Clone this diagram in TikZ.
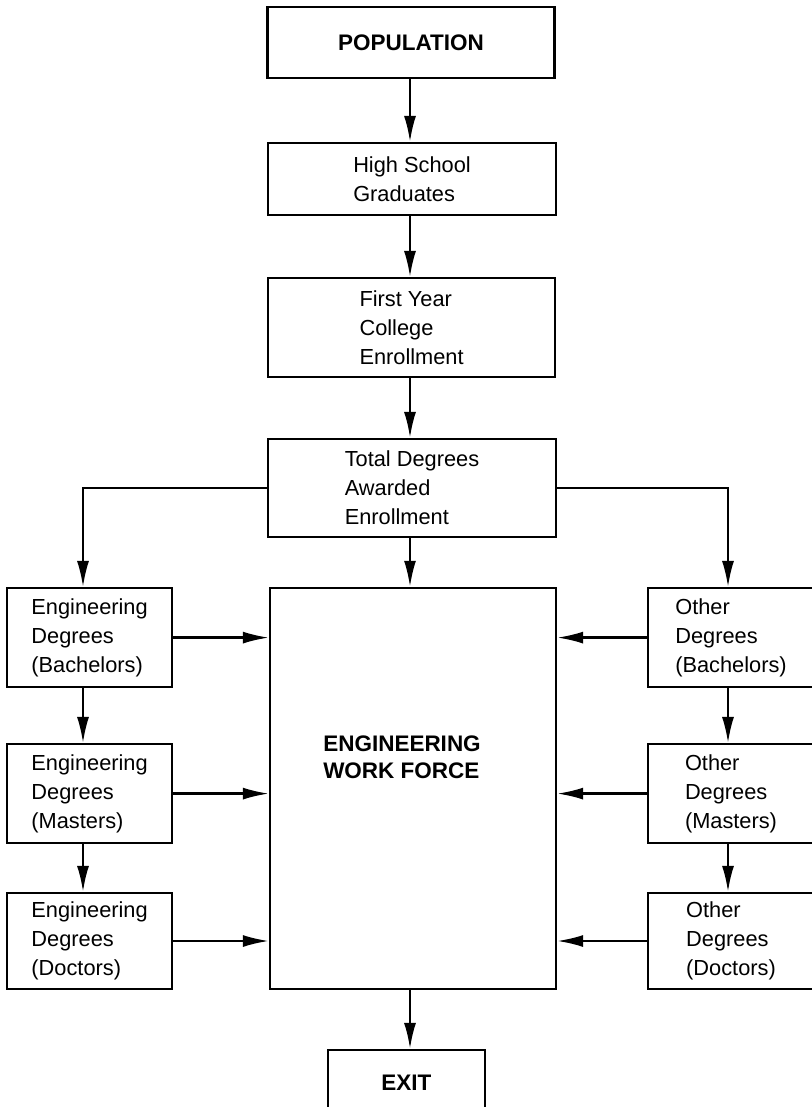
\documentclass[tikz,border=0pt]{standalone}
\usepackage{fontspec}
\setmainfont{Liberation Sans}
\usetikzlibrary{arrows.meta}

\tikzset{
    box/.style={draw, line width=1.6pt, align=left, inner sep=0pt,
        font=\fontsize{15.5}{20.5}\selectfont},
    bigbox/.style={box, font=\fontsize{16}{19.5}\selectfont\bfseries},
    flow/.style={line width=1.6pt, -{Latex[length=6.5mm,width=3mm]}}
}

\begin{document}
\begin{tikzpicture}
        \useasboundingbox (0,0) rectangle (20.3,-27.675);
        % main column
        \node[bigbox, minimum width=7.175cm, minimum height=1.775cm] (pop) at (10.275,-1.0625) {POPULATION};
        \node[box, minimum width=7.2cm, minimum height=1.8cm] (hs) at (10.3,-4.475) {High School\\Graduates};
        \node[box, minimum width=7.175cm, minimum height=2.475cm] (fy) at (10.29,-8.19) {First Year\\College\\Enrollment};
        \node[box, minimum width=7.2cm, minimum height=2.45cm] (td) at (10.3,-12.2) {Total Degrees\\Awarded\\Enrollment};
        \node[box, minimum width=7.15cm, minimum height=10.025cm] (ewf) at (10.325,-19.71) {};
        \node[bigbox, draw=none] (ewftext) at (10.05,-18.925) {ENGINEERING\\WORK FORCE};
        \node[bigbox, minimum width=3.925cm, minimum height=1.65cm] (exit) at (10.16,-27.075) {EXIT};

        % left column
        \node[box, minimum width=4.125cm, minimum height=2.475cm] (engb) at (2.24,-15.94) {Engineering\\Degrees\\(Bachelors)};
        \node[box, minimum width=4.125cm, minimum height=2.475cm] (engm) at (2.24,-19.84) {Engineering\\Degrees\\(Masters)};
        \node[box, minimum width=4.125cm, minimum height=2.4cm] (engd) at (2.24,-23.525) {Engineering\\Degrees\\(Doctors)};

        % right column
        \node[box, minimum width=4.15cm, minimum height=2.475cm] (othb) at (18.275,-15.94) {Other\\Degrees\\(Bachelors)};
        \node[box, minimum width=4.15cm, minimum height=2.475cm] (othm) at (18.275,-19.84) {Other\\Degrees\\(Masters)};
        \node[box, minimum width=4.15cm, minimum height=2.4cm] (othd) at (18.275,-23.525) {Other\\Degrees\\(Doctors)};

        \coordinate (mcol) at (10.25,-12.2);
        \coordinate (lcol) at (2.075,-12.2);
        \coordinate (rcol) at (18.2,-12.2);

        \draw[flow] (pop.south -| mcol) -- (hs.north -| mcol);
        \draw[flow] (hs.south -| mcol) -- (fy.north -| mcol);
        \draw[flow] (fy.south -| mcol) -- (td.north -| mcol);
        \draw[flow] (td.south -| mcol) -- (ewf.north -| mcol);
        \draw[flow] (ewf.south -| mcol) -- (exit.north -| mcol);

        \draw[flow] (td.west) -- (lcol) -- (lcol |- engb.north);
        \draw[flow] (td.east) -- (rcol) -- (rcol |- othb.north);

        \draw[flow] (engb.south -| lcol) -- (engm.north -| lcol);
        \draw[flow] (engm.south -| lcol) -- (engd.north -| lcol);
        \draw[flow] (othb.south -| rcol) -- (othm.north -| rcol);
        \draw[flow] (othm.south -| rcol) -- (othd.north -| rcol);

        \draw[flow] (engb.east) -- (engb.east -| ewf.west);
        \draw[flow] (engm.east) -- (engm.east -| ewf.west);
        \draw[flow] (engd.east) -- (engd.east -| ewf.west);
        \draw[flow] (othb.west) -- (othb.west -| ewf.east);
        \draw[flow] (othm.west) -- (othm.west -| ewf.east);
        \draw[flow] (othd.west) -- (othd.west -| ewf.east);
    \end{tikzpicture}
\end{document}
